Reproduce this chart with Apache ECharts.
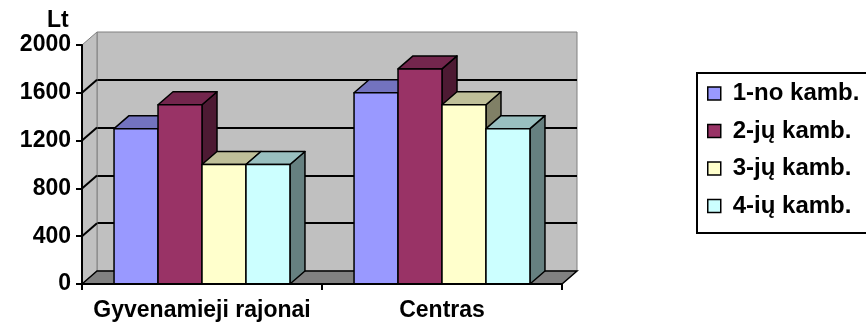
<!DOCTYPE html>
<html>
<head>
<meta charset="utf-8">
<script src="https://cdn.jsdelivr.net/npm/echarts@6/dist/echarts.min.js"></script>
<style>
html, body { margin: 0; padding: 0; background: #fff; }
#chart { width: 866px; height: 325px; }
</style>
</head>
<body>
<div id="chart"></div>
<script>
'use strict';

// chart data
const categories = ['Gyvenamieji rajonai', 'Centras'];
const seriesNames = ['1-no kamb.', '2-jų kamb.', '3-jų kamb.', '4-ių kamb.'];
const kamb1 = [1300, 1600];
const kamb2 = [1500, 1800];
const kamb3 = [1000, 1500];
const kamb4 = [1000, 1300];
const yTicks = [0, 400, 800, 1200, 1600, 2000];

const values = [kamb1, kamb2, kamb3, kamb4];
const colors = ['#9999FF', '#993366', '#FFFFCC', '#CCFFFF'];
const tops = ['#7373BF', '#73264D', '#BFBF99', '#99BFBF'];
const sides = ['#4D4D80', '#4D1A33', '#808066', '#668080'];

const DX = 15, DY = 13;   // depth of the 3d box
const GAP = 0.267;        // gap between category groups
const FONT = '"Liberation Sans", Arial, sans-serif';

const chart = echarts.init(document.getElementById('chart'));

// 3d column: side, top, then front face
function barItem(idx) {
    return function (params, api) {
        const top = api.coord([api.value(0), api.value(1)]);
        const base = api.coord([api.value(0), 0]);
        const band = api.size([1, 0])[0];
        const bw = band * (1 - GAP) / 4;
        const x0 = top[0] - 2 * bw + idx * bw;
        const x1 = x0 + bw;
        const y0 = top[1], y1 = base[1];
        const st = {stroke: '#000', lineWidth: 1.5, lineJoin: 'round'};
        return {
            type: 'group',
            children: [
                {type: 'polygon', shape: {points: [[x1, y0], [x1 + DX, y0 - DY], [x1 + DX, y1 - DY], [x1, y1]]},
                    style: Object.assign({fill: sides[idx]}, st)},
                {type: 'polygon', shape: {points: [[x0, y0], [x1, y0], [x1 + DX, y0 - DY], [x0 + DX, y0 - DY]]},
                    style: Object.assign({fill: tops[idx]}, st)},
                {type: 'rect', shape: {x: x0, y: y0, width: bw, height: y1 - y0},
                    style: Object.assign({fill: colors[idx]}, st)}
            ]
        };
    };
}

// left side wall and floor
function wallItem(params, api) {
    const cs = params.coordSys;
    const xl = cs.x, xr = cs.x + cs.width, yt = cs.y, yb = cs.y + cs.height;
    const children = [
        {type: 'polygon', shape: {points: [[xl, yt], [xl + DX, yt - DY], [xl + DX, yb - DY], [xl, yb]]},
            style: {fill: '#C0C0C0', stroke: '#808080', lineWidth: 1}},
        {type: 'polygon', shape: {points: [[xl, yb], [xl + DX, yb - DY], [xr + DX, yb - DY], [xr, yb]]},
            style: {fill: '#808080', stroke: '#000', lineWidth: 1.5}}
    ];
    yTicks.slice(1, -1).forEach(function (v) {
        const y = api.coord([0, v])[1];
        children.push({type: 'line', shape: {x1: xl, y1: y, x2: xl + DX, y2: y - DY},
            style: {stroke: '#000', lineWidth: 2}});
    });
    return {type: 'group', children: children};
}

const labelStyle = {fontFamily: FONT, fontWeight: 'bold', fontSize: 23, color: '#000'};

const series = [{
    type: 'custom',
    name: 'walls',
    xAxisIndex: 0,
    yAxisIndex: 0,
    z: 1,
    silent: true,
    renderItem: wallItem,
    data: [[0, 0]]
}];
values.forEach(function (vals, i) {
    series.push({
        type: 'custom',
        name: seriesNames[i],
        xAxisIndex: 0,
        yAxisIndex: 0,
        z: 2,
        itemStyle: {color: colors[i]},
        renderItem: barItem(i),
        encode: {x: 0, y: 1},
        data: vals.map(function (v, c) { return [c, v]; })
    });
});

const option = {
    animation: false,
    title: {
        text: 'Lt', left: 47, top: 9, padding: 0,
        textStyle: labelStyle
    },
    // legend frame runs past the right edge, like the original
    graphic: [{
        type: 'rect', silent: true,
        shape: {x: 697, y: 73, width: 220, height: 160},
        style: {fill: 'none', stroke: '#000', lineWidth: 2}
    }],
    legend: {
        orient: 'vertical',
        left: 697,
        top: 73,
        data: seriesNames,
        icon: 'rect',
        itemWidth: 13,
        itemHeight: 13,
        itemGap: 13.5,
        padding: [8.5, 10, 14, 10],
        itemStyle: {borderColor: '#000', borderWidth: 1.5},
        textStyle: Object.assign({}, labelStyle, {fontSize: 24, lineHeight: 24, padding: [0, 0, 0, 7]})
    },
    grid: [
        {left: 82, top: 45, width: 480, height: 239, outerBoundsMode: 'none'},
        {left: 97, top: 32, width: 480, height: 239, outerBoundsMode: 'none',
            show: true, backgroundColor: '#C0C0C0', borderColor: '#808080', borderWidth: 1}
    ],
    xAxis: [
        {
            type: 'category', gridIndex: 0, data: categories, z: 5,
            axisLine: {lineStyle: {color: '#000', width: 2}},
            axisTick: {show: true, length: 6, lineStyle: {color: '#000', width: 2}},
            axisLabel: Object.assign({margin: 15, interval: 0}, labelStyle),
            splitLine: {show: false}
        },
        {type: 'category', gridIndex: 1, data: categories, show: false}
    ],
    yAxis: [
        {
            type: 'value', gridIndex: 0, min: 0, max: 2000, interval: 400, z: 5,
            axisLine: {show: true, lineStyle: {color: '#000', width: 2}},
            axisTick: {show: true, length: 6, lineStyle: {color: '#000', width: 2}},
            axisLabel: Object.assign({margin: 11, padding: [3, 0, 0, 0],
                formatter: function (v) { return String(v); }}, labelStyle),
            splitLine: {show: false}
        },
        {
            type: 'value', gridIndex: 1, min: 0, max: 2000, interval: 400,
            axisLine: {show: false}, axisTick: {show: false}, axisLabel: {show: false},
            splitLine: {show: true, showMinLine: false, showMaxLine: false, lineStyle: {color: '#000', width: 2}}
        }
    ],
    series: series
};

chart.setOption(option);
</script>
</body>
</html>
